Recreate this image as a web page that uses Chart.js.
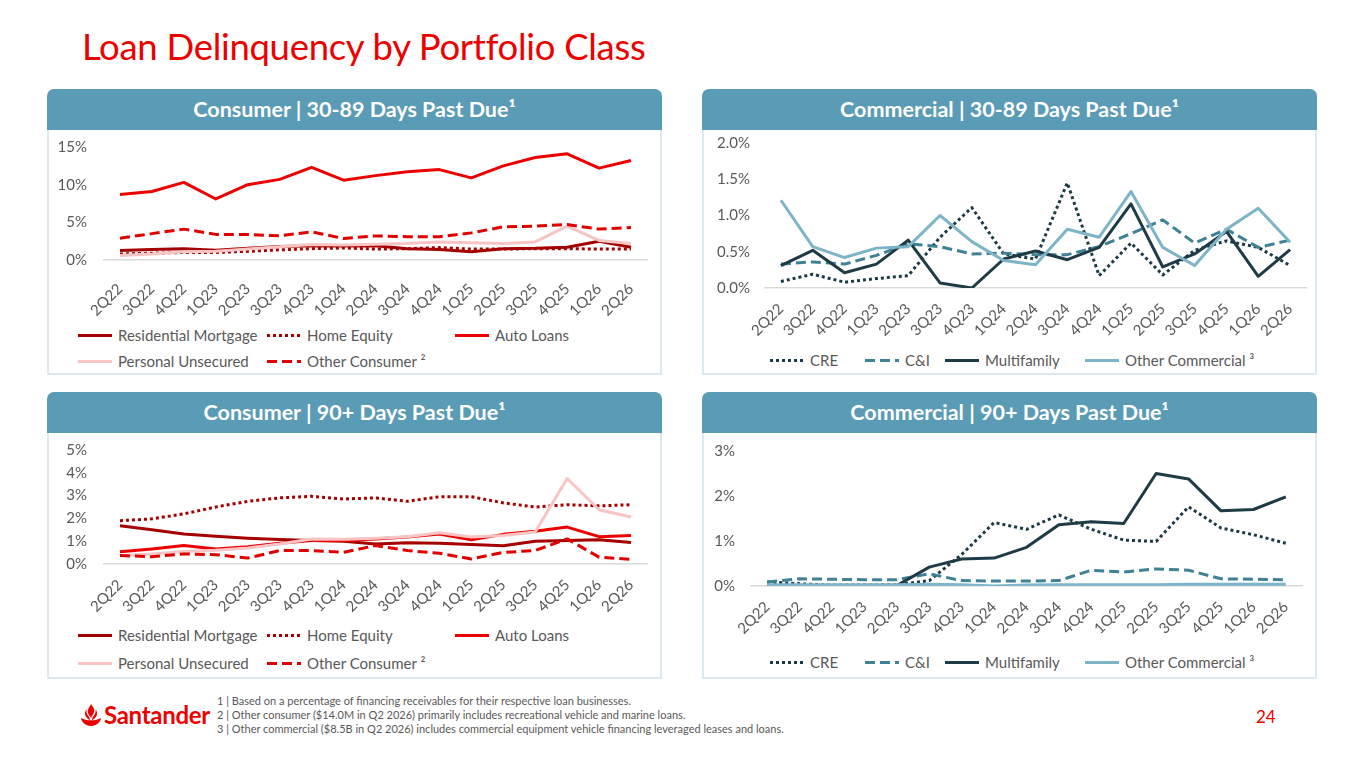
<!DOCTYPE html>
<html><head><meta charset="utf-8">
<script src="https://cdn.jsdelivr.net/npm/chart.js@4.4.1/dist/chart.umd.min.js"></script>
<style>
body{margin:0;width:1365px;height:768px;background:#fff;position:relative;overflow:hidden;font-family:Lato,"Open Sans",sans-serif;}
.abs{position:absolute}
.title{left:82px;top:24px;font-size:36.5px;color:#EC0000;white-space:nowrap;letter-spacing:-0.3px}
.hdr{background:#5A9BB5;color:#fff;font-weight:bold;font-size:21.5px;text-align:center;border-radius:7px 7px 0 0;height:41px;line-height:41px;white-space:nowrap}
.pbody{border:2px solid #DDE9F0;border-top:none;box-sizing:border-box;background:#fff}
.it{position:absolute;display:flex;align-items:center;white-space:nowrap;font-size:15px;color:#595959;height:20px}
.sw{display:inline-block;width:34px;height:3px;margin-right:6px}
.foot{left:217px;font-size:11px;color:#595959;white-space:nowrap}
canvas{position:absolute}
</style></head><body>
<div class="abs title">Loan Delinquency by Portfolio Class</div>

<div class="abs hdr" style="left:47px;top:89px;width:615px">Consumer | 30-89 Days Past Due¹</div>
<div class="abs pbody" style="left:47px;top:130px;width:615px;height:245px"></div>
<div class="abs hdr" style="left:702px;top:89px;width:615px">Commercial | 30-89 Days Past Due¹</div>
<div class="abs pbody" style="left:702px;top:130px;width:615px;height:245px"></div>
<div class="abs hdr" style="left:47px;top:392px;width:615px">Consumer | 90+ Days Past Due¹</div>
<div class="abs pbody" style="left:47px;top:433px;width:615px;height:246px"></div>
<div class="abs hdr" style="left:702px;top:392px;width:615px">Commercial | 90+ Days Past Due¹</div>
<div class="abs pbody" style="left:702px;top:433px;width:615px;height:246px"></div>

<canvas id="c1" width="608" height="186" style="left:50px;top:134px"></canvas>
<canvas id="c2" width="610" height="209" style="left:705px;top:130px"></canvas>
<canvas id="c3" width="608" height="186" style="left:50px;top:437px"></canvas>
<canvas id="c4" width="610" height="210" style="left:705px;top:437px"></canvas>

<div id="legends"></div>

<svg class="abs" style="left:80px;top:703px" width="22" height="24" viewBox="0 0 22 24">
  <path fill="#EC0000" d="M11 1c-1 3 -4 5 -3 9c0.5 2 2 3 3 5c1-3 4-5 3-9c-0.5-2-2-3-3-5z"/>
  <path fill="#EC0000" d="M6.5 6c-1.5 2.5 -2 4.5 -1 7c1 2 3 3 4.5 4.5c0.2-2-1-4-2.3-5.5c-1.2-1.6-1.6-3.5-1.2-6z"/>
  <path fill="#EC0000" d="M15.5 6c1.5 2.5 2 4.5 1 7c-1 2 -3 3 -4.5 4.5c-0.2-2 1-4 2.3-5.5c1.2-1.6 1.6-3.5 1.2-6z"/>
  <path fill="#EC0000" d="M1 15c3 1.5 6 2.3 10 2.3s7-0.8 10-2.3c-0.5 4-4.5 8-10 8s-9.5-4-10-8z"/>
</svg>
<div class="abs" style="left:104px;top:700px;font-size:24px;color:#EC0000;font-weight:bold;letter-spacing:-0.3px">Santander</div>
<div class="abs foot" style="top:694px">1 | Based on a percentage of financing receivables for their respective loan businesses.</div>
<div class="abs foot" style="top:708px">2 | Other consumer ($14.0M in Q2 2026) primarily includes recreational vehicle and marine loans.</div>
<div class="abs foot" style="top:722px">3 | Other commercial ($8.5B in Q2 2026) includes commercial equipment vehicle financing leveraged leases and loans.</div>
<div class="abs" style="left:1256px;top:706px;font-size:17px;color:#EC0000">24</div>

<script>
// ---------- DATA ----------
const quarters = ['2Q22','3Q22','4Q22','1Q23','2Q23','3Q23','4Q23','1Q24','2Q24','3Q24','4Q24','1Q25','2Q25','3Q25','4Q25','1Q26','2Q26'];

const consumerSeries = ['Residential Mortgage','Home Equity','Auto Loans','Personal Unsecured','Other Consumer ²'];
const commercialSeries = ['CRE','C&I','Multifamily','Other Commercial ³'];

// Consumer | 30-89 days past due (%)
const resMortgage30 = [1.25,1.4,1.5,1.3,1.55,1.8,1.9,1.85,1.9,1.5,1.4,1.1,1.5,1.55,1.7,2.5,1.7];
const homeEquity30  = [0.8,0.9,1.0,1.0,1.15,1.35,1.5,1.6,1.45,1.5,1.65,1.45,1.45,1.5,1.5,1.45,1.45];
const autoLoans30   = [8.7,9.1,10.3,8.1,10.0,10.7,12.3,10.6,11.2,11.7,12.0,10.9,12.5,13.6,14.1,12.2,13.2];
const personal30    = [0.6,0.8,1.1,1.15,1.45,1.75,2.05,2.0,2.1,2.2,2.4,2.3,2.2,2.4,4.5,2.6,2.2];
const otherCons30   = [2.9,3.5,4.1,3.4,3.4,3.2,3.75,2.85,3.2,3.1,3.1,3.6,4.4,4.5,4.7,4.1,4.3];

// Commercial | 30-89 days past due (%)
const cre30         = [0.09,0.19,0.08,0.13,0.17,0.7,1.11,0.47,0.4,1.45,0.17,0.62,0.18,0.52,0.65,0.56,0.31];
const cAndI30       = [0.33,0.36,0.33,0.45,0.61,0.57,0.47,0.48,0.46,0.46,0.57,0.75,0.94,0.62,0.81,0.56,0.66];
const multifamily30 = [0.31,0.52,0.21,0.33,0.66,0.07,0.0,0.4,0.51,0.39,0.56,1.16,0.29,0.47,0.78,0.16,0.53];
const otherComm30   = [1.21,0.57,0.42,0.55,0.57,1.0,0.64,0.38,0.32,0.81,0.7,1.33,0.56,0.31,0.81,1.1,0.63];

// Consumer | 90+ days past due (%)
const resMortgage90 = [1.68,1.5,1.32,1.22,1.13,1.07,1.03,1.0,0.88,0.93,0.91,0.85,0.8,1.0,1.03,1.06,0.94];
const homeEquity90  = [1.9,1.98,2.2,2.5,2.75,2.9,2.97,2.85,2.9,2.75,2.95,2.95,2.68,2.5,2.6,2.55,2.6];
const autoLoans90   = [0.54,0.66,0.81,0.66,0.76,0.91,1.03,1.03,1.1,1.18,1.32,1.06,1.3,1.44,1.62,1.2,1.25];
const personal90    = [0.37,0.44,0.55,0.6,0.7,0.88,1.1,1.09,1.13,1.2,1.37,1.18,1.25,1.4,3.75,2.38,2.06];
const otherCons90   = [0.37,0.32,0.44,0.41,0.26,0.59,0.59,0.51,0.81,0.59,0.47,0.22,0.51,0.59,1.1,0.3,0.2];

// Commercial | 90+ days past due (%)
const cre90         = [0.09,0.05,0.02,0.02,0.03,0.12,0.7,1.41,1.26,1.58,1.26,1.02,0.99,1.76,1.29,1.14,0.95];
const cAndI90       = [0.09,0.16,0.15,0.14,0.14,0.27,0.12,0.11,0.11,0.12,0.35,0.31,0.38,0.35,0.16,0.15,0.14];
const multifamily90 = [0,0,0,0,0.01,0.42,0.6,0.62,0.86,1.36,1.43,1.39,2.5,2.38,1.67,1.70,1.98];
const otherComm90   = [0.03,0.03,0.03,0.03,0.03,0.04,0.03,0.0,0.02,0.03,0.03,0.03,0.03,0.04,0.04,0.04,0.04];

// ---------- STYLES ----------
const DOT=[3,3], DASH=[10,5];
const consumerStyles = [
  {color:'#A50000', dash:[]},
  {color:'#A50000', dash:DOT},
  {color:'#EC0000', dash:[]},
  {color:'#F9C4C4', dash:[]},
  {color:'#E00000', dash:DASH}
];
const commercialStyles = [
  {color:'#1C3A45', dash:DOT},
  {color:'#3F8195', dash:DASH},
  {color:'#1E3B46', dash:[]},
  {color:'#7DB4C7', dash:[]}
];

const tickFont = {family:'Lato', size:15};
const GREY = '#595959';

function makeChart(id, names, styles, values, yCfg, layout){
  const n = names.length;
  const datasets = names.map((nm,i)=>({
    label:nm, data:values[i], borderColor:styles[i].color, backgroundColor:styles[i].color,
    borderDash:styles[i].dash, borderWidth:3, pointRadius:0, tension:0, fill:false,
    borderCapStyle:'butt', borderJoinStyle:'round', order:n-i
  }));
  new Chart(document.getElementById(id), {
    type:'line',
    data:{labels:quarters, datasets},
    options:{
      responsive:false, animation:false, events:[],
      layout:{padding:{top:layout.top, right:layout.right, left:0, bottom:0}},
      plugins:{legend:{display:false}, tooltip:{enabled:false}},
      scales:{
        x:{offset:true, grid:{display:false, drawTicks:false},
           border:{display:true, color:'#D9D9D9', width:1.5},
           ticks:{color:GREY, font:tickFont, minRotation:45, maxRotation:45, autoSkip:false, padding:layout.xpad},
           afterFit:s=>{s.height=layout.xh; s.paddingLeft=0; s.paddingRight=0;}},
        y:{min:0, max:yCfg.max, grid:{display:false, drawTicks:false}, border:{display:false},
           ticks:{stepSize:yCfg.step, autoSkip:false, color:GREY, font:tickFont, padding:layout.ypad,
                  callback:v=>v.toFixed(yCfg.dec)+'%'},
           afterFit:s=>{s.width=layout.yw; s.paddingTop=0; s.paddingBottom=0;}}
      }
    }
  });
}

makeChart('c1', consumerSeries, consumerStyles,
  [resMortgage30,homeEquity30,autoLoans30,personal30,otherCons30],
  {max:15, step:5, dec:0}, {top:13, right:11, xh:60, yw:54, ypad:17, xpad:20});
makeChart('c2', commercialSeries, commercialStyles,
  [cre30,cAndI30,multifamily30,otherComm30],
  {max:2, step:0.5, dec:1}, {top:13, right:9, xh:51, yw:60, ypad:15, xpad:12});
makeChart('c3', consumerSeries, consumerStyles,
  [resMortgage90,homeEquity90,autoLoans90,personal90,otherCons90],
  {max:5, step:1, dec:0}, {top:13, right:11, xh:59, yw:54, ypad:17, xpad:12});
makeChart('c4', commercialSeries, commercialStyles,
  [cre90,cAndI90,multifamily90,otherComm90],
  {max:3, step:1, dec:0}, {top:14, right:13, xh:61, yw:46, ypad:16, xpad:12});

// ---------- HTML legends ----------
function swatch(st){
  let bg;
  if(st.dash.length){
    const a=st.dash[0], b=st.dash[0]+st.dash[1];
    bg=`repeating-linear-gradient(90deg, ${st.color} 0 ${a}px, transparent ${a}px ${b}px)`;
  } else bg=st.color;
  return `<span class="sw" style="background:${bg}"></span>`;
}
function legend(names, styles, positions){
  const box=document.getElementById('legends');
  names.forEach((nm,i)=>{
    const d=document.createElement('div');
    d.className='it';
    d.style.left=positions[i][0]+'px';
    d.style.top=(positions[i][1]-10)+'px';
    d.innerHTML=swatch(styles[i])+'<span></span>';
    d.lastChild.textContent=nm;
    box.appendChild(d);
  });
}
legend(consumerSeries, consumerStyles, [[78,335],[267,335],[455,335],[78,361],[267,361]]);
legend(commercialSeries, commercialStyles, [[770,360],[865,360],[945,360],[1085,360]]);
legend(consumerSeries, consumerStyles, [[78,635],[267,635],[455,635],[78,663],[267,663]]);
legend(commercialSeries, commercialStyles, [[770,662],[865,662],[945,662],[1085,662]]);
</script>
</body></html>
